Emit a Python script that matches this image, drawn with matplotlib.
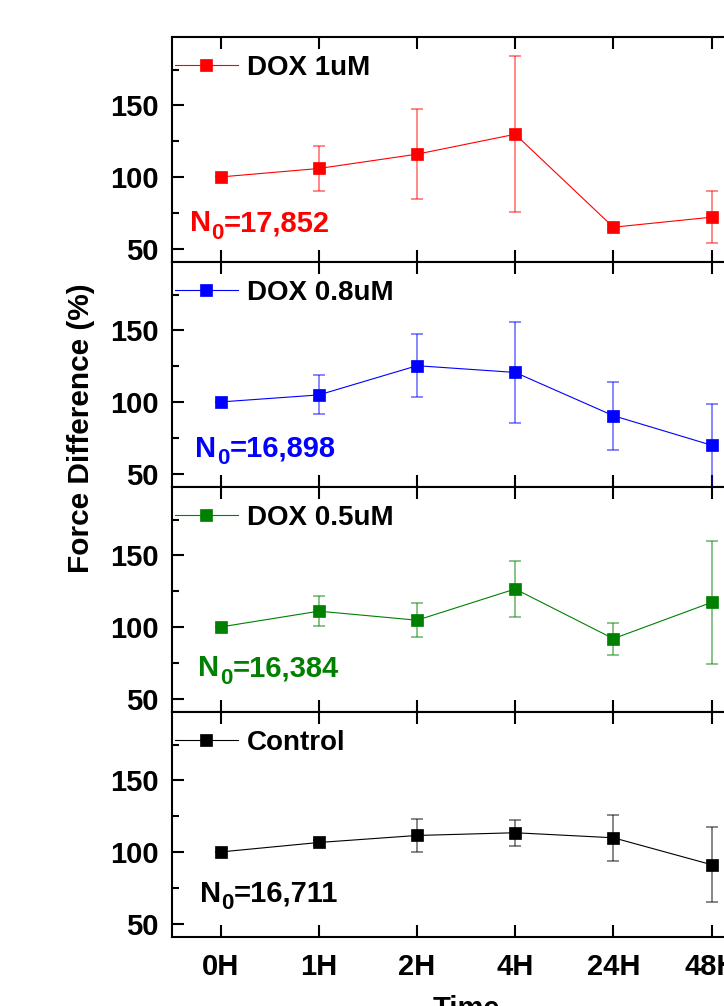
import numpy as np
import matplotlib
matplotlib.use('Agg')
import matplotlib.pyplot as plt
from matplotlib.ticker import MultipleLocator

plt.rcParams['font.family'] = ['Liberation Sans', 'DejaVu Sans']
plt.rcParams['font.weight'] = 'bold'

# data
times = ['0H', '1H', '2H', '4H', '24H', '48H']

dox1_mean = [100, 105.9, 115.9, 129.8, 64.9, 71.9]
dox1_err = [0, 15.6, 31.4, 54.6, 1.5, 18.3]

dox08_mean = [100, 104.9, 125.3, 120.6, 90.4, 69.8]
dox08_err = [0, 13.6, 21.8, 35.3, 23.7, 29.0]

dox05_mean = [100, 111.0, 104.7, 126.5, 91.8, 117.1]
dox05_err = [0, 10.5, 12.0, 19.4, 11.3, 43.0]

ctrl_mean = [100, 106.6, 111.5, 113.4, 109.9, 91.1]
ctrl_err = [0, 1.5, 11.4, 9.1, 16.2, 26.0]

names = ['DOX 1uM', 'DOX 0.8uM', 'DOX 0.5uM', 'Control']
n0_labels = ['17,852', '16,898', '16,384', '16,711']
colors = ['#FF0000', '#0000FF', '#008000', '#000000']

means = [dox1_mean, dox08_mean, dox05_mean, ctrl_mean]
errs = [dox1_err, dox08_err, dox05_err, ctrl_err]

# layout (pixels of the 724x1006 picture), right part of the plot is cut off
W, H = 724, 1006
ax_left, ax_right = 171.6, 760.6
panel_top, panel_h = 37.3, 225.0
n0_x = [0.031, 0.040, 0.045, 0.048]
n0_y = [0.138, 0.135, 0.160, 0.157]

fig = plt.figure(figsize=(W / 100, H / 100), dpi=100)
x = np.arange(len(times))

axes = []
for i in range(4):
    top = panel_top + i * panel_h
    ax = fig.add_axes([ax_left / W, 1 - (top + panel_h) / H,
                       (ax_right - ax_left) / W, panel_h / H])
    axes.append(ax)

    ax.errorbar(x, means[i], yerr=errs[i], fmt='none', ecolor=colors[i],
                alpha=0.55, elinewidth=1.2, capsize=4.3, capthick=1.2)
    ax.plot(x, means[i], '-s', color=colors[i], lw=0.8, ms=8, mew=0.5,
            label=names[i])

    ax.set_xlim(-0.5, 5.5)
    ax.set_ylim(40.4, 197.5)
    ax.set_xticks(x)
    ax.yaxis.set_major_locator(MultipleLocator(50))
    ax.yaxis.set_minor_locator(MultipleLocator(25))
    ax.tick_params(which='both', direction='in', top=True, right=True,
                   width=1.5, labelsize=21)
    ax.tick_params(which='major', length=8.4)
    ax.tick_params(which='minor', length=4.8)
    ax.tick_params(axis='y', pad=9.5)
    ax.tick_params(axis='x', pad=11.5)
    for sp in ax.spines.values():
        sp.set_linewidth(1.5)

    if i < 3:
        ax.set_xticklabels([])
    else:
        ax.set_xticklabels(times)
        ax.set_xlabel('Time', fontsize=21, fontweight='bold', labelpad=10)

    ax.legend(loc='center left', bbox_to_anchor=(0.005, 1 - 30.4 / panel_h),
              frameon=False, borderpad=0, borderaxespad=0,
              handlelength=2.3, handletextpad=0.3,
              prop=dict(weight='bold', size=20))

    # N0 label: "N", subscript "0", then the count
    t_n = ax.text(n0_x[i], n0_y[i], 'N', transform=ax.transAxes,
                  color=colors[i], fontsize=21, fontweight='bold',
                  ha='left', va='baseline')
    t_0 = ax.annotate('0', xy=(1, 0), xycoords=t_n, xytext=(0.3, -4.5),
                      textcoords='offset points', color=colors[i],
                      fontsize=16, fontweight='bold', ha='left', va='bottom')
    ax.annotate('=' + n0_labels[i], xy=(1, 0), xycoords=(t_0, t_n),
                xytext=(0.3, 0), textcoords='offset points', color=colors[i],
                fontsize=21, fontweight='bold', ha='left', va='bottom')

fig.text(81 / W, 1 - 428 / H, 'Force Difference (%)', rotation=90,
         ha='center', va='center', fontsize=21.5, fontweight='bold')

fig.savefig('out.png', dpi=100)
